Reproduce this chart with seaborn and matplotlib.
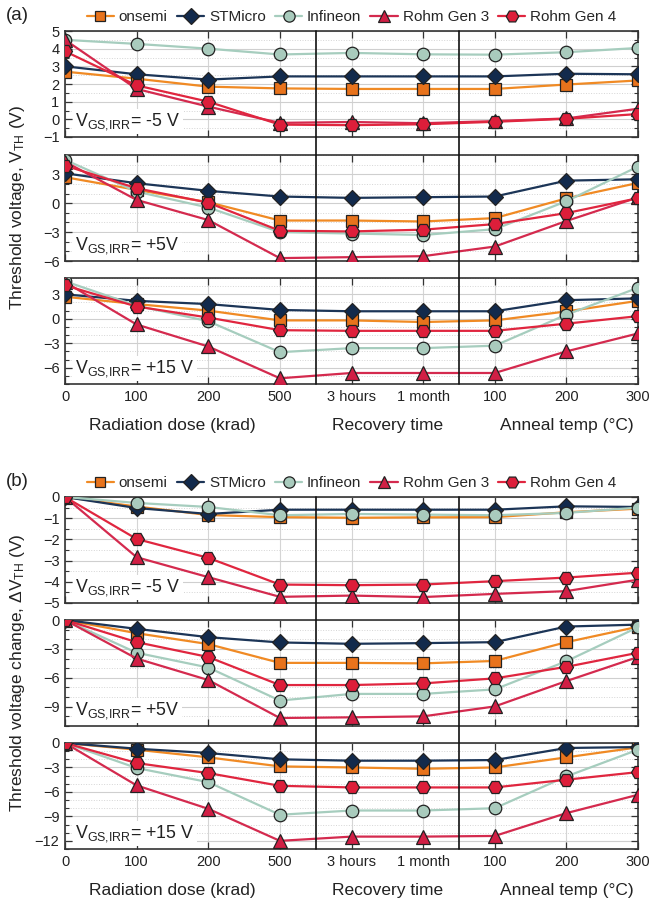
import numpy as np
import pandas as pd
import matplotlib
matplotlib.use("Agg")
import matplotlib.pyplot as plt
import seaborn as sns
from matplotlib.ticker import MultipleLocator, FixedLocator
from matplotlib.lines import Line2D
from matplotlib.transforms import blended_transform_factory

# ---------------- data ----------------
categories = ["0", "100", "200", "500", "3 hours", "1 month", "100", "200", "300"]
devices = ["onsemi", "STMicro", "Infineon", "Rohm Gen 3", "Rohm Gen 4"]
bias_labels = [r"V$_{\mathrm{GS{,}IRR}}$= -5 V", r"V$_{\mathrm{GS{,}IRR}}$= +5V", r"V$_{\mathrm{GS{,}IRR}}$= +15 V"]
group_labels = ["Radiation dose (krad)", "Recovery time", "Anneal temp (°C)"]

# (a) threshold voltage
vth_m5_onsemi = [2.7, 2.3, 1.85, 1.75, 1.72, 1.72, 1.72, 1.97, 2.2]
vth_m5_stmicro = [3.0, 2.55, 2.25, 2.43, 2.43, 2.43, 2.43, 2.58, 2.55]
vth_m5_infineon = [4.5, 4.27, 4.0, 3.67, 3.76, 3.68, 3.66, 3.8, 4.04]
vth_m5_rohm3 = [4.5, 1.72, 0.72, -0.2, -0.15, -0.22, -0.1, 0.05, 0.6]
vth_m5_rohm4 = [3.85, 1.92, 1.0, -0.3, -0.33, -0.28, -0.14, 0.03, 0.3]

vth_p5_onsemi = [2.7, 1.38, 0.1, -1.8, -1.8, -1.9, -1.55, 0.5, 2.1]
vth_p5_stmicro = [3.1, 2.07, 1.28, 0.69, 0.55, 0.62, 0.69, 2.34, 2.48]
vth_p5_infineon = [4.5, 1.2, -0.45, -3.0, -3.15, -3.3, -2.7, 0.2, 3.8]
vth_p5_rohm3 = [4.3, 0.34, -1.75, -5.7, -5.6, -5.5, -4.5, -1.85, 0.6]
vth_p5_rohm4 = [3.9, 1.55, 0.05, -2.86, -2.93, -2.75, -2.17, -1.03, 0.52]

vth_p15_onsemi = [2.7, 1.8, 1.0, -0.2, -0.2, -0.4, -0.2, 0.9, 2.2]
vth_p15_stmicro = [3.0, 2.2, 1.8, 1.08, 0.92, 0.92, 0.92, 2.28, 2.5]
vth_p15_infineon = [4.6, 1.6, -0.3, -4.1, -3.6, -3.6, -3.3, 0.5, 3.8]
vth_p15_rohm3 = [4.5, -0.7, -3.4, -7.3, -6.65, -6.65, -6.65, -4.0, -1.8]
vth_p15_rohm4 = [4.1, 1.5, 0.15, -1.4, -1.48, -1.48, -1.48, -0.6, 0.32]

# (b) threshold voltage change
dvth_m5_onsemi = [0, -0.45, -0.85, -0.95, -0.98, -0.96, -0.95, -0.72, -0.55]
dvth_m5_stmicro = [0, -0.52, -0.8, -0.6, -0.6, -0.6, -0.6, -0.44, -0.47]
dvth_m5_infineon = [0, -0.28, -0.47, -0.86, -0.8, -0.83, -0.86, -0.75, -0.5]
dvth_m5_rohm3 = [0, -2.84, -3.78, -4.71, -4.65, -4.72, -4.57, -4.44, -3.9]
dvth_m5_rohm4 = [0, -1.98, -2.87, -4.13, -4.16, -4.13, -3.97, -3.8, -3.57]

dvth_p5_onsemi = [0, -1.37, -2.5, -4.45, -4.45, -4.5, -4.25, -2.3, -0.7]
dvth_p5_stmicro = [0, -0.92, -1.78, -2.33, -2.47, -2.4, -2.3, -0.68, -0.48]
dvth_p5_infineon = [0, -3.4, -4.93, -8.36, -7.67, -7.67, -7.2, -4.28, -0.75]
dvth_p5_rohm3 = [0, -4.0, -6.23, -10.17, -10.1, -10.0, -8.97, -6.34, -3.84]
dvth_p5_rohm4 = [0, -2.3, -3.84, -6.75, -6.75, -6.58, -6.06, -4.86, -3.4]

dvth_p15_onsemi = [0, -0.82, -1.76, -2.87, -3.0, -3.16, -3.0, -1.76, -0.53]
dvth_p15_stmicro = [0, -0.7, -1.23, -2.0, -2.17, -2.17, -2.09, -0.61, -0.5]
dvth_p15_infineon = [0, -3.07, -4.8, -8.8, -8.28, -8.28, -8.0, -4.1, -0.82]
dvth_p15_rohm3 = [0, -5.2, -8.07, -12.0, -11.48, -11.48, -11.4, -8.6, -6.35]
dvth_p15_rohm4 = [0, -2.46, -3.69, -5.25, -5.45, -5.45, -5.45, -4.5, -3.57]

panel_a = [
    [vth_m5_onsemi, vth_m5_stmicro, vth_m5_infineon, vth_m5_rohm3, vth_m5_rohm4],
    [vth_p5_onsemi, vth_p5_stmicro, vth_p5_infineon, vth_p5_rohm3, vth_p5_rohm4],
    [vth_p15_onsemi, vth_p15_stmicro, vth_p15_infineon, vth_p15_rohm3, vth_p15_rohm4],
]
panel_b = [
    [dvth_m5_onsemi, dvth_m5_stmicro, dvth_m5_infineon, dvth_m5_rohm3, dvth_m5_rohm4],
    [dvth_p5_onsemi, dvth_p5_stmicro, dvth_p5_infineon, dvth_p5_rohm3, dvth_p5_rohm4],
    [dvth_p15_onsemi, dvth_p15_stmicro, dvth_p15_infineon, dvth_p15_rohm3, dvth_p15_rohm4],
]

# ---------------- style ----------------
sns.set_theme(style="white")
plt.rcParams["font.family"] = ["Liberation Sans", "DejaVu Sans"]
plt.rcParams["mathtext.fontset"] = "custom"
plt.rcParams["mathtext.rm"] = "Liberation Sans"
plt.rcParams["mathtext.it"] = "Liberation Sans:italic"
plt.rcParams["mathtext.bf"] = "Liberation Sans:bold"

line_colors = ["#F08A24", "#1C3557", "#A6CDBE", "#D42A4E", "#E0263F"]
face_colors = ["#E8731C", "#122A4C", "#A9CBBD", "#D11F45", "#DD1E3A"]
markers = ["s", "D", "o", "^", "H"]
msizes = [8, 8.5, 9, 9.5, 10]

W, H = 651, 899
fig = plt.figure(figsize=(W / 100, H / 100), dpi=100)

ax_left, ax_right = 65, 638
ax_h = 106
tops_a = [31, 155, 278]
tops_b = [497, 620, 743]

ylims_a = [(-1, 5), (-6, 5), (-8, 5)]
ylims_b = [(-5, 0), (-11, 0), (-13, 0)]
yticks_a = [list(range(-1, 6)), [-6, -3, 0, 3], [-6, -3, 0, 3]]
yticks_b = [list(range(-5, 1)), [-9, -6, -3, 0], [-12, -9, -6, -3, 0]]
minor_a = [0.5, 1, 1]
minor_b = [0.5, 1, 1]

xpos = np.arange(len(categories))


def make_panel(tops, data, ylims, yticks, minors, letter, ylabel):
    axes = []
    handles = []
    for i, top in enumerate(tops):
        ax = fig.add_axes([ax_left / W, 1 - (top + ax_h) / H, (ax_right - ax_left) / W, ax_h / H])
        for j, dev in enumerate(devices):
            df = pd.DataFrame({"x": xpos, "y": data[i][j]})
            sns.lineplot(data=df, x="x", y="y", ax=ax, color=line_colors[j], marker=markers[j],
                         markersize=msizes[j], markerfacecolor=face_colors[j],
                         markeredgecolor="#222222", markeredgewidth=0.9, linewidth=1.6,
                         sort=False, legend=False, zorder=3 + j)
            if i == 0:
                handles.append(ax.lines[-1])
        ax.set_xlim(0, len(categories) - 1)
        ax.set_ylim(*ylims[i])
        ax.yaxis.set_major_locator(FixedLocator(yticks[i]))
        ax.yaxis.set_minor_locator(MultipleLocator(minors[i]))
        ax.set_xticks(xpos)
        ax.set_xlabel("")
        ax.set_ylabel("")
        ax.set_axisbelow(True)
        ax.yaxis.grid(True, which="major", color="#cfcfcf", linewidth=0.8)
        ax.yaxis.grid(True, which="minor", color="#d5d5d5", linewidth=0.7, linestyle=":")
        ax.xaxis.grid(True, which="major", color="#d5d5d5", linewidth=0.8)
        ax.tick_params(axis="both", which="both", direction="in", left=True, right=True,
                       top=True, bottom=True, colors="#333333", labelcolor="#222222")
        ax.tick_params(axis="both", which="major", length=5, width=0.9, labelsize=10.5, pad=4)
        ax.tick_params(axis="both", which="minor", length=3, width=0.8)
        for s in ax.spines.values():
            s.set_color("#333333")
            s.set_linewidth(1.2)
        if i < 2:
            ax.set_xticklabels([])
        else:
            ax.set_xticklabels(categories)
            tr = blended_transform_factory(ax.transData, ax.transAxes)
            for gx, gl in zip([1.5, 4.5, 7.0], group_labels):
                ax.text(gx, -0.39, gl, transform=tr, ha="center", va="center", fontsize=12.5,
                        color="#222222")
        ax.text(0.018, 0.15, bias_labels[i], transform=ax.transAxes, ha="left", va="center",
                fontsize=12.8, color="#222222", zorder=20,
                bbox=dict(facecolor="white", edgecolor="none", pad=1.5))
        axes.append(ax)

    # separators between dose / recovery / anneal sections
    trf = blended_transform_factory(axes[0].transData, fig.transFigure)
    y_top = 1 - tops[0] / H
    y_bot = 1 - (tops[-1] + ax_h) / H
    for sx in [3.5, 5.5]:
        fig.add_artist(Line2D([sx, sx], [y_bot, y_top], transform=trf, color="#111111",
                              linewidth=1.2, zorder=30))

    axes[0].legend(handles, devices, loc="center", bbox_to_anchor=(0.5, 1 + 14 / ax_h), ncol=5,
                   frameon=False, fontsize=11, handlelength=1.8, handletextpad=0.3,
                   columnspacing=0.6, borderaxespad=0, markerscale=0.9)
    fig.text(17 / W, 1 - (tops[0] - 15) / H, letter, ha="center", va="center", fontsize=13.5,
             color="#222222")
    fig.text(18 / W, 1 - ((tops[0] + tops[-1] + ax_h) / 2) / H, ylabel, rotation=90,
             ha="center", va="center", fontsize=12.5, color="#222222")
    return axes


make_panel(tops_a, panel_a, ylims_a, yticks_a, minor_a, "(a)",
           r"Threshold voltage, V$_{\mathrm{TH}}$ (V)")
make_panel(tops_b, panel_b, ylims_b, yticks_b, minor_b, "(b)",
           r"Threshold voltage change, ΔV$_{\mathrm{TH}}$ (V)")

fig.savefig("out.png", dpi=100)
